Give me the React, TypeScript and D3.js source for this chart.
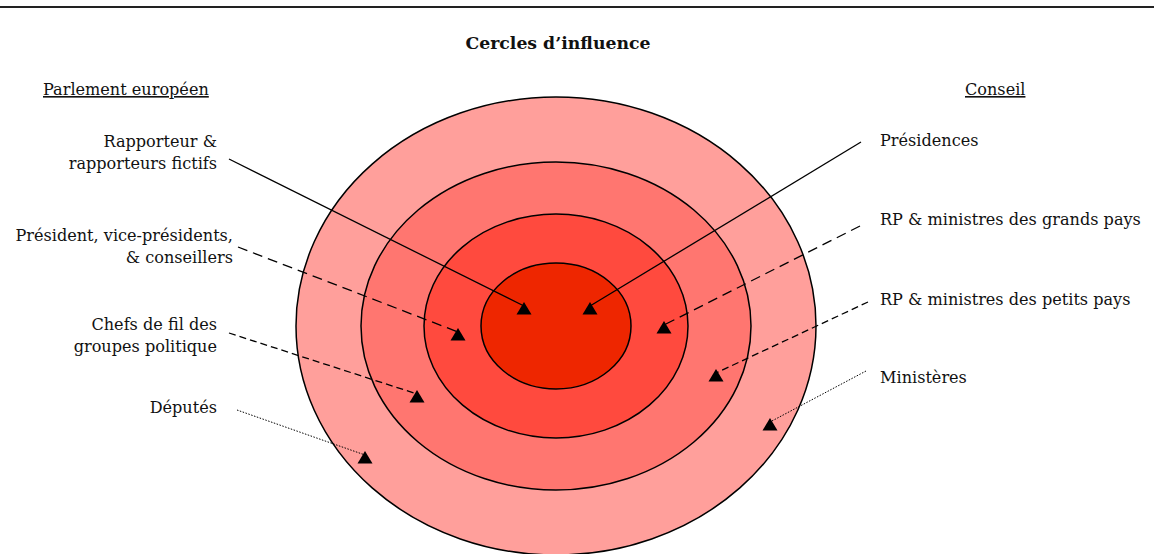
import React from "react";
import * as d3 from "d3";

const title = "Cercles d’influence";
const sideHeaders = ["Parlement européen", "Conseil"];
const ringNames = ["Cercle 4", "Cercle 3", "Cercle 2", "Cercle 1"];
const ringColors = ["#ff9f9b", "#ff7670", "#ff4a3e", "#ee2600"];
const leftLabels = [
  ["Rapporteur &", "rapporteurs fictifs"],
  ["Président, vice-présidents,", "& conseillers"],
  ["Chefs de fil des", "groupes politique"],
  ["Députés"],
];
const rightLabels = [
  ["Présidences"],
  ["RP & ministres des grands pays"],
  ["RP & ministres des petits pays"],
  ["Ministères"],
];
const influenceLevels = [1, 2, 3, 4];

export default function App() {
  const W = 1154, H = 554;
  const cx = 556, cy = 326;
  const rxs = [260, 195, 132, 75];
  const rys = [229, 164, 112, 63];
  const font = "'DejaVu Serif', serif";
  const fs = 16.1;

  const dash = d3.scaleOrdinal<number, string>()
    .domain(influenceLevels)
    .range(["none", "10,6", "7,4", "1.5,1.5"]);
  const strokeW = d3.scaleOrdinal<number, number>()
    .domain(influenceLevels)
    .range([1.3, 1.3, 1.3, 1]);

  const leftStart = [[229, 159], [238, 247], [229, 333], [237, 410]];
  const leftEnd = [[524, 309], [458, 335], [417, 397], [365, 458]];
  const rightStart = [[861, 142], [860, 226], [868, 302], [866, 371]];
  const rightEnd = [[590, 309], [664, 328], [716, 376], [770, 425]];
  const leftText = [[217, 147], [233, 241], [217, 330], [217, 413]];
  const rightText = [[880, 146], [880, 225], [880, 305], [880, 383]];

  const tri = (x: number, y: number) => {
    const p = d3.path();
    p.moveTo(x, y - 7);
    p.lineTo(x + 7.5, y + 5.5);
    p.lineTo(x - 7.5, y + 5.5);
    p.closePath();
    return p.toString();
  };

  const arrow = (s: number[], e: number[], lvl: number, key: string) => {
    const line = d3.line();
    const tipY = e[1] - 3;
    return (
      <g key={key}>
        <path d={line([[s[0], s[1]], [e[0], tipY]]) || ""} fill="none" stroke="#000"
          strokeWidth={strokeW(lvl)} strokeDasharray={dash(lvl)} />
        <path d={tri(e[0], e[1])} fill="#000" />
      </g>
    );
  };

  return (
    <svg width={W} height={H} style={{ position: "absolute", left: 0, top: 0, background: "#fff" }}>
      <line x1={0} x2={W} y1={7} y2={7} stroke="#222" strokeWidth={2} />
      <text x={558} y={49} textAnchor="middle" fontFamily="'DejaVu Serif', serif" fontWeight="bold"
        fontSize={17.3} fill="#111">{title}</text>
      <text x={43} y={95} fontFamily={font} fontSize={fs} textDecoration="underline" fill="#111">{sideHeaders[0]}</text>
      <text x={965} y={95} fontFamily={font} fontSize={fs} textDecoration="underline" fill="#111">{sideHeaders[1]}</text>
      {ringNames.map((n, i) => (
        <ellipse key={n} cx={cx} cy={cy} rx={rxs[i]} ry={rys[i]} fill={ringColors[i]} stroke="#000" strokeWidth={1.5} />
      ))}
      {influenceLevels.map((lvl, i) => arrow(leftStart[i], leftEnd[i], lvl, "l" + i))}
      {influenceLevels.map((lvl, i) => arrow(rightStart[i], rightEnd[i], lvl, "r" + i))}
      {leftLabels.map((lines, i) => (
        <text key={"lt" + i} x={leftText[i][0]} y={leftText[i][1]} textAnchor="end" fontFamily={font} fontSize={fs} fill="#111">
          {lines.map((t, j) => (
            <tspan key={j} x={leftText[i][0]} dy={j === 0 ? 0 : 21.5}>{t}</tspan>
          ))}
        </text>
      ))}
      {rightLabels.map((lines, i) => (
        <text key={"rt" + i} x={rightText[i][0]} y={rightText[i][1]} fontFamily={font} fontSize={fs} fill="#111">
          {lines[0]}
        </text>
      ))}
    </svg>
  );
}
